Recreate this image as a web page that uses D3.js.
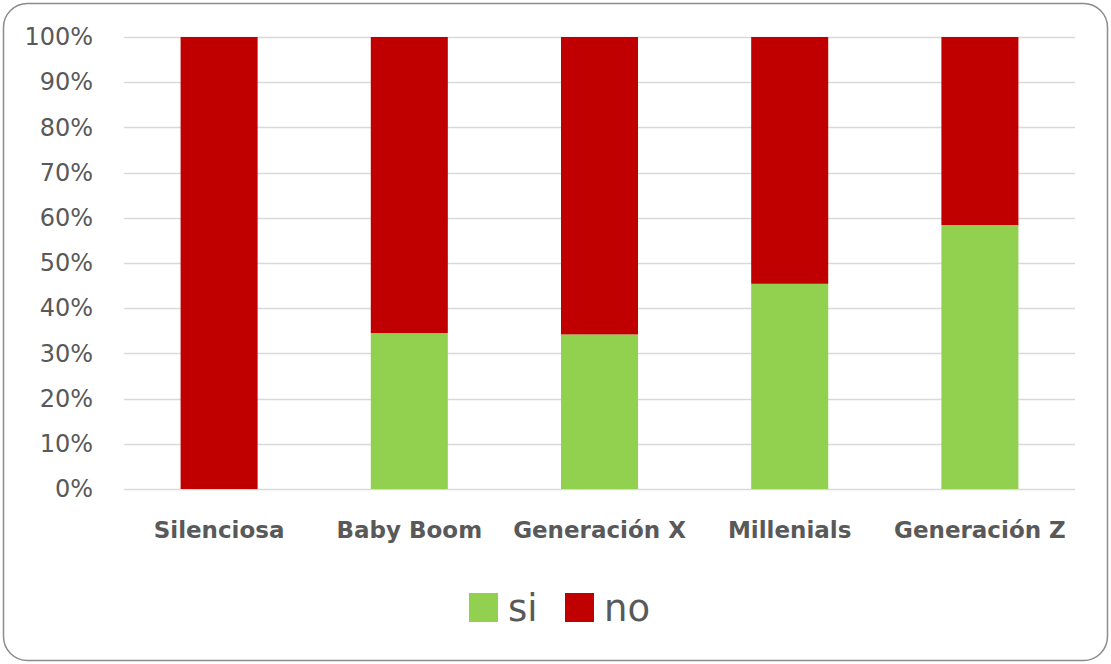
<!DOCTYPE html>
<html>
<head>
<meta charset="utf-8">
<script src="https://cdn.jsdelivr.net/npm/d3@7"></script>
<style>
  html, body { margin: 0; padding: 0; background: #ffffff; }
  svg { display: block; }
</style>
</head>
<body>
<svg id="chart" width="1111" height="664"></svg>
<script>
// Generaciones y porcentaje de respuestas "si" / "no"
const categories = ["Silenciosa", "Baby Boom", "Generación X", "Millenials", "Generación Z"];
const siValues = [0, 34.5, 34.2, 45.4, 58.4];
const noValues = [100, 65.5, 65.8, 54.6, 41.6];
const seriesNames = ["si", "no"];
const seriesColors = ["#92d050", "#c00000"];
const yTicks = [0, 10, 20, 30, 40, 50, 60, 70, 80, 90, 100];

const W = 1111, H = 664;
const plot = { left: 124, right: 1075, top: 37, bottom: 489 };
const svg = d3.select("#chart");

// Outer rounded frame
svg.append("rect")
  .attr("x", 3.5).attr("y", 3.5)
  .attr("width", W - 7).attr("height", H - 7)
  .attr("rx", 24).attr("ry", 24)
  .attr("fill", "#ffffff")
  .attr("stroke", "#8c8c8c")
  .attr("stroke-width", 1.5);

const x = d3.scaleBand()
  .domain(categories)
  .range([plot.left, plot.right])
  .paddingInner(0.595)
  .paddingOuter(0.2975);

const y = d3.scaleLinear().domain([0, 100]).range([plot.bottom, plot.top]);

// Horizontal gridlines
svg.append("g")
  .selectAll("line")
  .data(yTicks)
  .join("line")
  .attr("x1", plot.left).attr("x2", plot.right)
  .attr("y1", d => Math.round(y(d)) + 0.5).attr("y2", d => Math.round(y(d)) + 0.5)
  .attr("stroke", "#d9d9d9")
  .attr("stroke-width", 1.5);

// Y axis labels
const yAxis = d3.axisLeft(y).tickValues(yTicks).tickFormat(d => d + "%").tickSize(0).tickPadding(0);
const yg = svg.append("g").attr("transform", `translate(93,0)`).call(yAxis);
yg.select(".domain").remove();
yg.selectAll("text")
  .attr("fill", "#595959")
  .style("font-family", "'DejaVu Sans', sans-serif")
  .style("font-size", "24px");

// Stacked bars
const rows = categories.map((c, i) => ({ cat: c, si: siValues[i], no: noValues[i] }));
const stack = d3.stack().keys(seriesNames)(rows);
const color = d3.scaleOrdinal().domain(seriesNames).range(seriesColors);

svg.append("g")
  .selectAll("g")
  .data(stack)
  .join("g")
  .attr("fill", d => color(d.key))
  .selectAll("rect")
  .data(d => d)
  .join("rect")
  .attr("x", d => x(d.data.cat))
  .attr("width", x.bandwidth())
  .attr("y", d => y(d[1]))
  .attr("height", d => y(d[0]) - y(d[1]));

// Category labels
const xAxis = d3.axisBottom(x).tickSize(0).tickPadding(0);
const xg = svg.append("g").attr("transform", `translate(0,${plot.bottom + 33})`).call(xAxis);
xg.select(".domain").remove();
xg.selectAll("text")
  .attr("fill", "#595959")
  .attr("dy", "0.71em")
  .style("font-family", "'DejaVu Sans', sans-serif")
  .style("font-weight", "bold")
  .style("font-size", "23px");

// Legend
const legend = svg.append("g").attr("transform", "translate(469,593)");
const legendItems = legend.selectAll("g")
  .data(seriesNames)
  .join("g")
  .attr("transform", (d, i) => `translate(${i * 96},0)`);
legendItems.append("rect")
  .attr("width", 29).attr("height", 29)
  .attr("fill", d => color(d));
legendItems.append("text")
  .attr("x", 39).attr("y", 15)
  .attr("dy", "0.35em")
  .attr("fill", "#595959")
  .style("font-family", "'DejaVu Sans', sans-serif")
  .style("font-size", "37px")
  .text(d => d);
</script>
</body>
</html>
